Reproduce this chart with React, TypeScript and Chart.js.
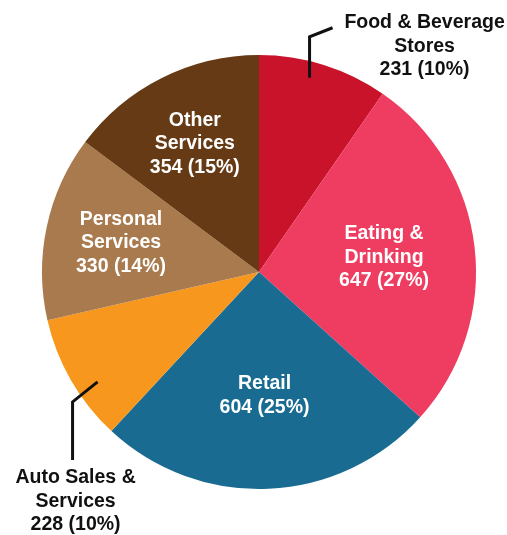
import React, { useEffect, useRef } from "react";
import { Chart, registerables } from "chart.js";

Chart.register(...registerables);

const categories: string[][] = [
  ["Food & Beverage", "Stores"],
  ["Eating &", "Drinking"],
  ["Retail"],
  ["Auto Sales &", "Services"],
  ["Personal", "Services"],
  ["Other", "Services"],
];
const values: number[] = [231, 647, 604, 228, 330, 354];
const colors: string[] = ["#C8132B", "#EE3D61", "#1A6B91", "#F7971E", "#A97A4D", "#663A14"];

// label placement (style, not data)
type LabelSpec = {
  inside: boolean;
  frac: number; // fraction along arc angle
  radial: number; // fraction of radius
  leader?: [number, number][];
  text?: [number, number];
};
const labelSpecs: LabelSpec[] = [
  { inside: false, frac: 0.42, radial: 0.925, leader: [[0, 0], [0, -41], [23, -50]], text: [115, -55] },
  { inside: true, frac: 0.5, radial: 0.58 },
  { inside: true, frac: 0.5, radial: 0.57 },
  { inside: false, frac: 0.376, radial: 0.9, leader: [[0, 0], [-25, 20], [-25, 78]], text: [-22, 96] },
  { inside: true, frac: 0.5, radial: 0.65 },
  { inside: true, frac: 0.5, radial: 0.66 },
];

const FONT = "bold 19.5px 'Liberation Sans', Arial, sans-serif";
const LINE_H = 23.5;

const labelPlugin = {
  id: "pieLabels",
  afterDatasetsDraw(chart: any) {
    const ctx = chart.ctx as CanvasRenderingContext2D;
    const meta = chart.getDatasetMeta(0);
    const data = chart.data.datasets[0].data as number[];
    const total = data.reduce((a, b) => a + b, 0);
    meta.data.forEach((arc: any, i: number) => {
      const spec = labelSpecs[i];
      const { x, y, startAngle, endAngle, outerRadius } = arc.getProps(
        ["x", "y", "startAngle", "endAngle", "outerRadius"],
        true
      );
      const ang = startAngle + (endAngle - startAngle) * spec.frac;
      const ax = x + Math.cos(ang) * outerRadius * spec.radial;
      const ay = y + Math.sin(ang) * outerRadius * spec.radial;
      const pct = Math.round((data[i] / total) * 100);
      const lines = [...categories[i], `${data[i]} (${pct}%)`];
      ctx.save();
      ctx.font = FONT;
      ctx.textAlign = "center";
      ctx.textBaseline = "middle";
      if (spec.inside) {
        ctx.fillStyle = "#FFFFFF";
        const y0 = ay - ((lines.length - 1) * LINE_H) / 2;
        lines.forEach((ln, k) => ctx.fillText(ln, ax, y0 + k * LINE_H));
      } else {
        ctx.strokeStyle = "#111111";
        ctx.lineWidth = 3;
        ctx.lineJoin = "miter";
        ctx.beginPath();
        spec.leader!.forEach(([dx, dy], k) => {
          if (k === 0) ctx.moveTo(ax + dx, ay + dy);
          else ctx.lineTo(ax + dx, ay + dy);
        });
        ctx.stroke();
        ctx.fillStyle = "#111111";
        const tx = ax + spec.text![0];
        const ty = ay + spec.text![1];
        lines.forEach((ln, k) => ctx.fillText(ln, tx, ty + k * LINE_H));
      }
      ctx.restore();
    });
  },
};

export default function App() {
  const ref = useRef<HTMLCanvasElement | null>(null);
  useEffect(() => {
    if (!ref.current) return;
    const chart = new Chart(ref.current, {
      type: "pie",
      data: {
        labels: categories.map((c) => c.join(" ")),
        datasets: [
          {
            data: values,
            backgroundColor: colors,
            borderWidth: 0,
            hoverOffset: 0,
            offset: 0,
          },
        ],
      },
      options: {
        animation: false,
        responsive: false,
        devicePixelRatio: 1,
        layout: { padding: { left: 42, right: 31, top: 55, bottom: 46 } },
        plugins: {
          legend: { display: false },
          tooltip: { enabled: false },
        },
        events: [],
      },
      plugins: [labelPlugin],
    });
    return () => chart.destroy();
  }, []);
  return (
    <div style={{ position: "fixed", left: 0, top: 0, width: 507, height: 535, background: "#fff" }}>
      <canvas ref={ref} width={507} height={535} />
    </div>
  );
}
